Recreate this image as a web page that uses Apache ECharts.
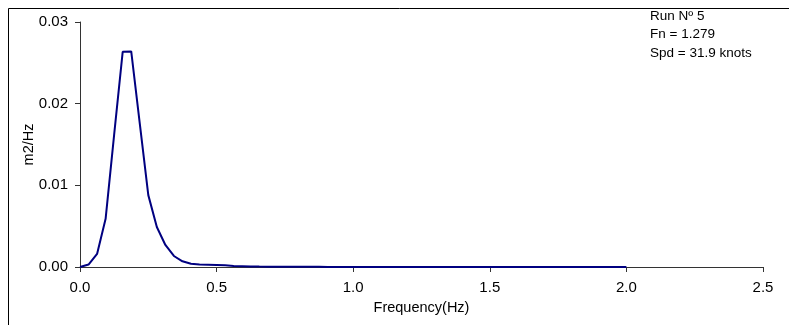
<!DOCTYPE html>
<html><head><meta charset="utf-8">
<script src="https://cdn.jsdelivr.net/npm/echarts@6/dist/echarts.min.js"></script>
<style>html,body{margin:0;padding:0;background:#fff}#c{width:789px;height:325px}</style>
</head><body><div id="c"></div>
<script>
const freqStep = 0.03125;
const psd = [0.0000,0.0003,0.0016,0.0059,0.0162,0.02635,0.02640,0.0176,0.0088,0.0049,0.0027,0.00135,0.0007,0.0004,0.0003,0.00028,0.00025,0.0002,0.00012,0.0001,0.00007,0.00005,0.00004,0.00003,0.00003,0.00002,0.00002,0.00002,0.00002,0.00001,0.00001,0.00001,0.00001,0.00001,0.00001,0.00001,0.00001,0.00001,0.00001,0.00001,0.00001,0.00001,0.00001,0.00001,0.00001,0.00001,0.00001,0.00001,0.00001,0.00001,0.00001,0.00001,0.00001,0.00001,0.00001,0.00001,0.00001,0.00001,0.00001,0.00001,0.00001,0.00001,0.00001,0.00001,0.00001];
const xTicks = [0.0,0.5,1.0,1.5,2.0,2.5];
const yTicks = [0.00,0.01,0.02,0.03];
const notes = ["Run Nº 5","Fn = 1.279","Spd = 31.9 knots"];
const data = psd.map((v,i)=>[i*freqStep, v]);
const font = 'Liberation Sans, Arial, sans-serif';
const chart = echarts.init(document.getElementById('c'));
chart.setOption({
  animation:false,
  grid:{left:80,right:26,top:22,bottom:58},
  xAxis:{type:'value',min:0,max:2.5,interval:0.5,
    name:'Frequency(Hz)',nameLocation:'middle',nameGap:33,nameMoveOverlap:false,
    nameTextStyle:{color:'#000',fontSize:14.5,fontFamily:font},
    axisLine:{lineStyle:{color:'#333',width:1}},
    axisTick:{show:true,length:5,lineStyle:{color:'#333'}},
    axisLabel:{color:'#000',fontSize:15,fontFamily:font,margin:13,formatter:v=>v.toFixed(1)},
    splitLine:{show:false}},
  yAxis:{type:'value',min:0,max:0.03,interval:0.01,
    name:'m2/Hz',nameLocation:'middle',nameGap:44,nameRotate:90,nameMoveOverlap:false,
    nameTextStyle:{color:'#000',fontSize:14.5,fontFamily:font},
    axisLine:{show:true,lineStyle:{color:'#333',width:1}},
    axisTick:{show:true,length:5,lineStyle:{color:'#333'}},
    axisLabel:{color:'#000',fontSize:15,fontFamily:font,margin:12,formatter:v=>v.toFixed(2)},
    splitLine:{show:false}},
  graphic:[
    {type:'rect',shape:{x:8.5,y:8.5,width:900,height:400},style:{fill:'none',stroke:'#000',lineWidth:1},silent:true},
    {type:'text',left:650,top:7,style:{text:notes.join('\n'),fill:'#000',font:'13.5px '+font,lineHeight:18.5}}
  ],
  series:[{type:'line',data:data,symbol:'none',smooth:false,
    lineStyle:{color:'#000080',width:2}}]
});
</script></body></html>
